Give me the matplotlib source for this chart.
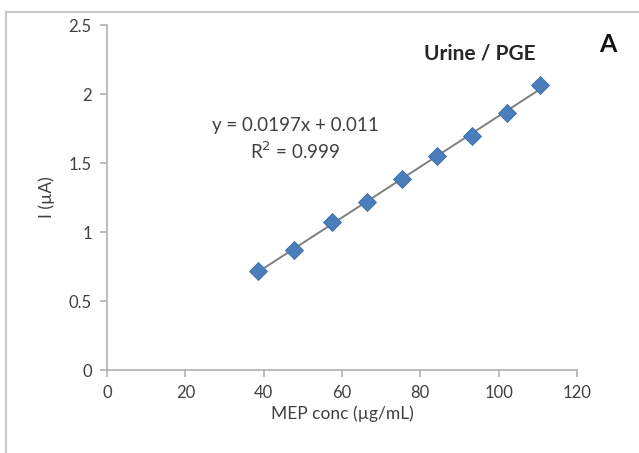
import numpy as np
import matplotlib
matplotlib.use("Agg")
import matplotlib.pyplot as plt
from matplotlib.lines import Line2D

plt.rcParams['font.family'] = ['Lato', 'DejaVu Sans']

conc = [38.5, 47.7, 57.4, 66.3, 75.3, 84.2, 93.2, 102.1, 110.6]
current = [0.717, 0.870, 1.070, 1.217, 1.384, 1.550, 1.696, 1.862, 2.065]
xticks = [0, 20, 40, 60, 80, 100, 120]
yticks = [0, 0.5, 1, 1.5, 2, 2.5]
ytick_labels = ['0', '0.5', '1', '1.5', '2', '2.5']

fig = plt.figure(figsize=(6.39, 4.53), dpi=100)
ax = fig.add_axes([0.1675, 0.1832, 0.7355, 0.7616])

x = np.array(conc)
y = np.array(current)
m, b = np.polyfit(x, y, 1)
xf = np.array([x.min(), x.max()])
ax.plot(xf, m * xf + b, color='#7f7f7f', lw=1.4, zorder=2)
ax.plot(x, y, linestyle='none', marker='D', markersize=9,
        markerfacecolor='#4a7ebb', markeredgecolor='#3a6aa5', markeredgewidth=0.6, zorder=3)

ax.set_xlim(0, 120)
ax.set_ylim(0, 2.5)
ax.set_xticks(xticks)
ax.set_yticks(yticks)
ax.set_yticklabels(ytick_labels)

for s in ['top', 'right']:
    ax.spines[s].set_visible(False)
for s in ['left', 'bottom']:
    ax.spines[s].set_color('#b0b0b0')
    ax.spines[s].set_linewidth(1.2)
ax.tick_params(axis='both', direction='out', length=5, width=1.2, color='#b0b0b0',
               labelsize=12, labelcolor='#404040', pad=6)

ax.set_xlabel('MEP conc (µg/mL)', fontsize=12.5, color='#404040', labelpad=3)
ax.set_ylabel('I (µA)', fontsize=12.5, color='#404040', labelpad=10)

fig.text(480 / 639, 1 - 53 / 453, 'Urine / PGE', fontsize=15, fontweight='bold',
         color='#262626', ha='center', va='center')
fig.text(608 / 639, 1 - 44 / 453, 'A', fontsize=18, fontweight='bold',
         color='#111111', ha='center', va='center')
fig.text(295 / 639, 1 - 126 / 453, 'y = 0.0197x + 0.011', fontsize=13.5,
         color='#404040', ha='center', va='center')
fig.text(295 / 639, 1 - 151 / 453, 'R$^2$ = 0.999', fontsize=13.5,
         color='#404040', ha='center', va='center')

fig.add_artist(Line2D([6 / 639, 6 / 639], [0, 1 - 12 / 453], transform=fig.transFigure,
                      color='#c8c8c8', lw=1.5))
fig.add_artist(Line2D([6 / 639, 1], [1 - 12 / 453, 1 - 12 / 453], transform=fig.transFigure,
                      color='#c8c8c8', lw=1.5))

fig.savefig('out.png', dpi=100)
